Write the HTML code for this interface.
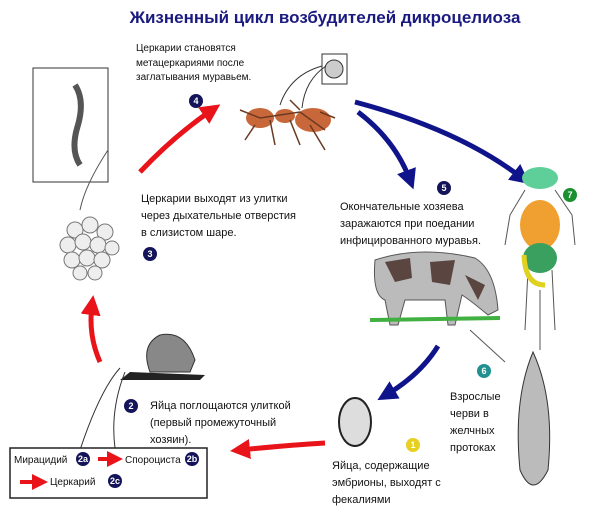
<!DOCTYPE html>
<html><head><meta charset="utf-8"><style>
html,body{margin:0;padding:0;background:#fff;}
svg{display:block;font-family:"Liberation Sans","DejaVu Sans",sans-serif;}
.t{font-size:11px;fill:#111;}
.b{font-size:9px;font-weight:bold;fill:#fff;text-anchor:middle;}
</style></head><body>
<svg width="600" height="512" viewBox="0 0 600 512" xmlns="http://www.w3.org/2000/svg">
<defs>
<marker id="ar" markerWidth="4" markerHeight="4" refX="2" refY="2" orient="auto"><path d="M0,0L4,2L0,4z" fill="#e8141a"/></marker>
<marker id="ab" markerWidth="4" markerHeight="4" refX="2" refY="2" orient="auto"><path d="M0,0L4,2L0,4z" fill="#10148a"/></marker>
</defs>
<text x="325" y="23" text-anchor="middle" style="font-size:17px;font-weight:bold;fill:#1a1a80">Жизненный цикл возбудителей дикроцелиоза</text>
<text class="t" x="136" y="51" style="font-size:10px">Церкарии становятся</text>
<text class="t" x="136" y="66" style="font-size:10px">метацеркариями после</text>
<text class="t" x="136" y="80" style="font-size:10px">заглатывания муравьем.</text>
<circle cx="196" cy="101" r="7" fill="#14145a"/><text class="b" x="196" y="104">4</text>
<!-- ant -->
<rect x="322" y="54" width="25" height="30" fill="#fff" stroke="#333"/>
<circle cx="334" cy="69" r="9" fill="#ccc" stroke="#333"/>
<path d="M280,105 Q290,75 322,66 M302,108 Q305,80 326,66" stroke="#333" fill="none"/>
<ellipse cx="260" cy="118" rx="14" ry="10" fill="#c8683a"/>
<ellipse cx="285" cy="116" rx="10" ry="7" fill="#c8683a"/>
<ellipse cx="313" cy="120" rx="18" ry="12" fill="#c8683a"/>
<path d="M240,110 L260,118 L300,112 L325,130 M255,125 L245,140 M270,120 L275,145 M290,120 L300,145 M310,125 L325,150 M300,110 L290,100 M320,112 L335,118" stroke="#6a3a20" stroke-width="1.5" fill="none"/>
<!-- arrows -->
<path d="M140,172 Q175,135 212,110" stroke="#e8141a" stroke-width="5" fill="none" marker-end="url(#ar)"/>
<path d="M358,112 Q395,140 410,180" stroke="#10148a" stroke-width="5" fill="none" marker-end="url(#ab)"/>
<path d="M355,102 Q460,130 522,178" stroke="#10148a" stroke-width="5" fill="none" marker-end="url(#ab)"/>
<path d="M438,346 Q420,375 386,395" stroke="#10148a" stroke-width="5" fill="none" marker-end="url(#ab)"/>
<path d="M325,443 Q290,445 240,450" stroke="#e8141a" stroke-width="5" fill="none" marker-end="url(#ar)"/>
<path d="M100,362 Q88,335 92,305" stroke="#e8141a" stroke-width="5" fill="none" marker-end="url(#ar)"/>
<!-- worm box -->
<rect x="33" y="68" width="75" height="114" fill="#fff" stroke="#333"/>
<path d="M75,85 Q85,100 78,125 Q70,150 80,165" stroke="#555" stroke-width="6" fill="none"/>
<path d="M108,150 Q85,185 80,210" stroke="#555" fill="none"/>
<!-- ball -->
<g fill="#eee" stroke="#777">
<circle cx="75" cy="230" r="8"/><circle cx="90" cy="225" r="8"/><circle cx="105" cy="232" r="8"/>
<circle cx="68" cy="245" r="8"/><circle cx="83" cy="242" r="8"/><circle cx="98" cy="245" r="8"/><circle cx="112" cy="248" r="7"/>
<circle cx="72" cy="260" r="8"/><circle cx="87" cy="258" r="8"/><circle cx="102" cy="260" r="8"/>
<circle cx="80" cy="273" r="7"/><circle cx="95" cy="273" r="7"/>
</g>
<text class="t" x="141" y="202">Церкарии выходят из улитки</text>
<text class="t" x="141" y="219">через дыхательные отверстия</text>
<text class="t" x="141" y="236">в слизистом шаре.</text>
<circle cx="150" cy="254" r="7" fill="#14145a"/><text class="b" x="150" y="257">3</text>
<circle cx="444" cy="188" r="7" fill="#14145a"/><text class="b" x="444" y="191">5</text>
<text class="t" x="340" y="210">Окончательные хозяева</text>
<text class="t" x="340" y="227">заражаются при поедании</text>
<text class="t" x="340" y="244">инфицированного муравья.</text>
<!-- human -->
<ellipse cx="540" cy="178" rx="18" ry="11" fill="#5fcf9a"/>
<path d="M525,190 L510,215 L505,245 M555,190 L572,215 L575,245 M528,270 L525,330 M552,270 L555,330" stroke="#555" fill="none"/>
<ellipse cx="540" cy="225" rx="20" ry="25" fill="#f0a030"/>
<ellipse cx="540" cy="258" rx="17" ry="15" fill="#3aa060"/>
<path d="M524,255 Q525,285 545,285" stroke="#e0d020" stroke-width="5" fill="none"/>
<circle cx="570" cy="195" r="7" fill="#1a9030"/><text class="b" x="570" y="198">7</text>
<path d="M540,290 L540,350" stroke="#555"/>
<!-- cow -->
<path d="M375,260 Q420,245 475,258 Q495,270 498,310 L488,315 Q470,300 462,295 L455,325 L448,325 L445,300 L405,300 L398,325 L390,325 L385,300 Q372,295 375,260z" fill="#bbb" stroke="#555"/>
<path d="M385,262 L410,258 L412,278 L395,282z M430,262 L455,260 L450,285 L432,282z M465,275 L485,285 L478,300z" fill="#5a4540"/>
<path d="M370,320 L500,318" stroke="#40b040" stroke-width="4"/>
<path d="M470,330 L505,362" stroke="#555"/>
<!-- snail -->
<path d="M120,380 L200,380 L205,375 L130,372z" fill="#222"/>
<path d="M150,372 Q140,345 160,335 Q185,330 195,360 L190,372z" fill="#888" stroke="#333"/>
<path d="M120,368 Q100,390 80,450 M125,372 Q110,410 115,448" stroke="#333" fill="none"/>
<circle cx="131" cy="406" r="7" fill="#14145a"/><text class="b" x="131" y="409">2</text>
<text class="t" x="150" y="409">Яйца поглощаются улиткой</text>
<text class="t" x="150" y="426">(первый промежуточный</text>
<text class="t" x="150" y="443">хозяин).</text>
<!-- box -->
<rect x="10" y="448" width="197" height="50" fill="#fff" stroke="#222" stroke-width="1.5"/>
<text class="t" x="14" y="463" style="font-size:10px">Мирацидий</text>
<circle cx="83" cy="459" r="7" fill="#14145a"/><text class="b" x="83" y="462">2a</text>
<path d="M98,459 L115,459" stroke="#e8141a" stroke-width="4" marker-end="url(#ar)"/>
<text class="t" x="125" y="463" style="font-size:10px">Спороциста</text>
<circle cx="192" cy="459" r="7" fill="#14145a"/><text class="b" x="192" y="462">2b</text>
<path d="M20,482 L40,482" stroke="#e8141a" stroke-width="4" marker-end="url(#ar)"/>
<text class="t" x="50" y="485" style="font-size:10px">Церкарий</text>
<circle cx="115" cy="481" r="7" fill="#14145a"/><text class="b" x="115" y="484">2c</text>
<!-- egg -->
<ellipse cx="355" cy="422" rx="16" ry="24" fill="#ddd" stroke="#222" stroke-width="2"/>
<circle cx="413" cy="445" r="7" fill="#e8d020"/><text class="b" x="413" y="448">1</text>
<text class="t" x="332" y="469">Яйца, содержащие</text>
<text class="t" x="332" y="486">эмбрионы, выходят с</text>
<text class="t" x="332" y="503">фекалиями</text>
<circle cx="484" cy="371" r="7" fill="#209090"/><text class="b" x="484" y="374">6</text>
<text class="t" x="450" y="400">Взрослые</text>
<text class="t" x="450" y="417">черви в</text>
<text class="t" x="450" y="434">желчных</text>
<text class="t" x="450" y="451">протоках</text>
<path d="M533,352 Q555,400 548,470 Q533,500 520,470 Q513,400 533,352z" fill="#bbb" stroke="#333"/>
</svg>
</body></html>
